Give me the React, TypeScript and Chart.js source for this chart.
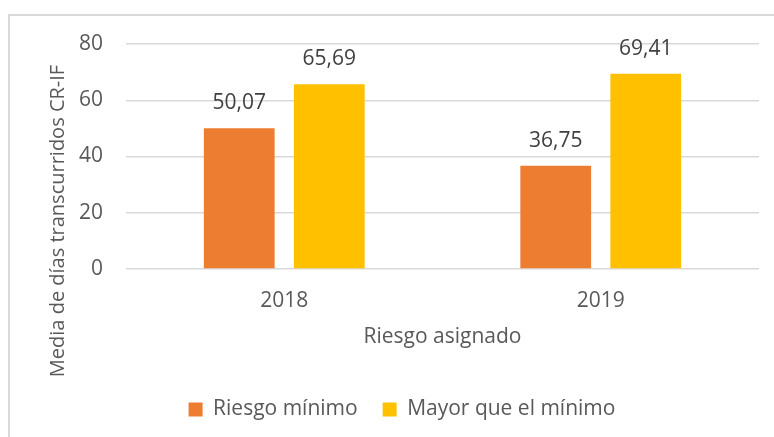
import React, { useEffect, useRef } from "react";
import { Chart, registerables } from "chart.js";

Chart.register(...registerables);

const categories = ["2018", "2019"];
const seriesNames = ["Riesgo mínimo", "Mayor que el mínimo"];
const riesgoMinimo = [50.07, 36.75];
const mayorQueMinimo = [65.69, 69.41];
const yTickValues = [0, 20, 40, 60, 80];
const xTitle = "Riesgo asignado";
const yTitle = "Media de días transcurridos CR-IF";

const FONT = "'Open Sans', 'Noto Sans', sans-serif";
const TEXT = "#595959";
const SIZE = 21;

const fmt = (v: number) => v.toFixed(2).replace(".", ",");

const labelsPlugin = {
  id: "customLabels",
  afterDatasetsDraw(chart: any) {
    const ctx = chart.ctx;
    ctx.save();
    ctx.font = `${SIZE}px ${FONT}`;
    ctx.fillStyle = "#404040";
    ctx.textAlign = "center";
    ctx.textBaseline = "middle";
    chart.data.datasets.forEach((ds: any, i: number) => {
      const meta = chart.getDatasetMeta(i);
      meta.data.forEach((el: any, j: number) => {
        ctx.fillText(fmt(ds.data[j]), el.x, el.y - 25);
      });
    });
    ctx.restore();
  },
  afterDraw(chart: any) {
    const ctx = chart.ctx;
    const area = chart.chartArea;
    ctx.save();
    ctx.fillStyle = TEXT;
    ctx.textAlign = "center";
    ctx.textBaseline = "middle";
    ctx.font = `${SIZE}px ${FONT}`;
    ctx.fillText(xTitle, (area.left + area.right) / 2, 321);
    ctx.font = `20px ${FONT}`;
    ctx.translate(48, 205);
    ctx.rotate(-Math.PI / 2);
    ctx.fillText(yTitle, 0, 0);
    ctx.restore();
  },
};

export default function App() {
  const ref = useRef<HTMLCanvasElement>(null);
  useEffect(() => {
    if (!ref.current) return;
    const chart = new Chart(ref.current, {
      type: "bar",
      data: {
        labels: categories,
        datasets: [
          {
            label: seriesNames[0],
            data: riesgoMinimo,
            backgroundColor: "#ED7D31",
            categoryPercentage: 0.569,
            barPercentage: 0.786,
          },
          {
            label: seriesNames[1],
            data: mayorQueMinimo,
            backgroundColor: "#FFC000",
            categoryPercentage: 0.569,
            barPercentage: 0.786,
          },
        ],
      },
      options: {
        responsive: false,
        animation: false,
        layout: { padding: { left: 35, right: 36, top: 28, bottom: 7 } },
        plugins: {
          tooltip: { enabled: false },
          legend: {
            position: "bottom",
            labels: {
              font: { family: FONT, size: SIZE },
              color: TEXT,
              boxWidth: 14,
              boxHeight: 14,
              padding: 25,
            },
          },
        },
        scales: {
          x: {
            grid: { display: false },
            border: { display: false },
            ticks: { font: { family: FONT, size: SIZE }, color: TEXT, padding: 11 },
            afterFit: (s: any) => {
              s.height = 105;
              s.paddingLeft = 0;
              s.paddingRight = 0;
            },
          },
          y: {
            min: 0,
            max: 80,
            grid: { color: "#d9d9d9", lineWidth: 1.5, drawTicks: false },
            border: { display: false },
            ticks: { font: { family: FONT, size: SIZE }, color: TEXT, padding: 23 },
            afterBuildTicks: (s: any) => {
              s.ticks = yTickValues.map((v) => ({ value: v }));
            },
            afterFit: (s: any) => {
              s.width = 81;
              s.paddingTop = 0;
              s.paddingBottom = 0;
            },
          },
        },
      },
      plugins: [labelsPlugin],
    });
    return () => chart.destroy();
  }, []);

  return (
    <div
      style={{
        position: "fixed",
        left: 8,
        top: 14,
        width: 787,
        height: 430,
        borderTop: "2px solid #d9d9d9",
        borderLeft: "2px solid #d9d9d9",
        background: "#fff",
      }}
    >
      <canvas ref={ref} width={785} height={421} style={{ display: "block", width: 785, height: 421 }} />
    </div>
  );
}
